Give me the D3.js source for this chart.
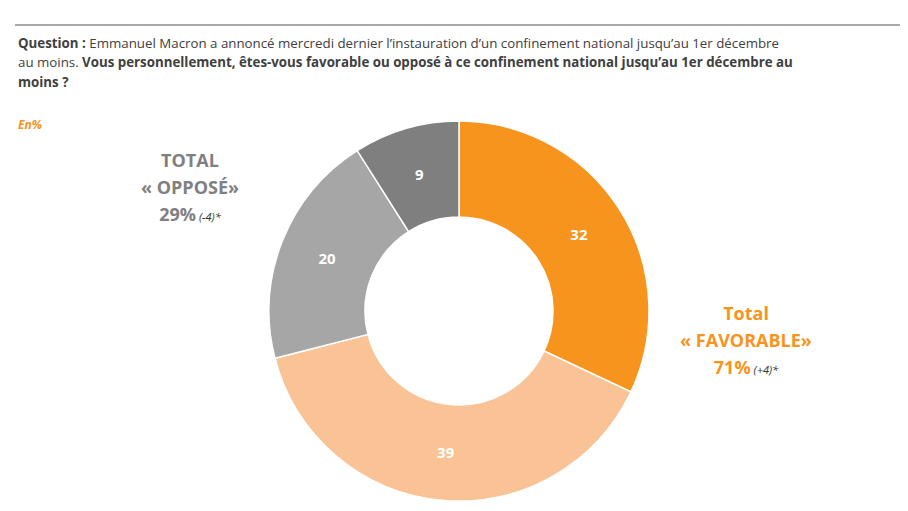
<!DOCTYPE html>
<html><head><meta charset="utf-8">
<script src="https://cdn.jsdelivr.net/npm/d3@7"></script>
<style>body{margin:0;background:#fff}text{font-family:"Open Sans",sans-serif}</style>
</head><body><svg id="c" width="908" height="511"></svg>
<script>
var categories = ["Très favorable", "Plutôt favorable", "Plutôt opposé", "Très opposé"];
var values = [32, 39, 20, 9];
var colors = ["#f7941d", "#f9c396", "#a6a6a6", "#7f7f7f"];

var svg = d3.select("#c");
svg.append("line").attr("x1", 15).attr("x2", 900).attr("y1", 25).attr("y2", 25).attr("stroke", "#555");

var t1 = svg.append("text").attr("x", 18).attr("y", 48).attr("font-size", 13.3).attr("fill", "#404040");
t1.append("tspan").attr("font-weight", "bold").text("Question : ");
t1.append("tspan").text("Emmanuel Macron a annoncé mercredi dernier l’instauration d’un confinement national jusqu’au 1er décembre");
var t2 = svg.append("text").attr("x", 18).attr("y", 67).attr("font-size", 13.3).attr("fill", "#404040");
t2.append("tspan").text("au moins. ");
t2.append("tspan").attr("font-weight", "bold").text("Vous personnellement, êtes-vous favorable ou opposé à ce confinement national jusqu’au 1er décembre au");
svg.append("text").attr("x", 18).attr("y", 87).attr("font-size", 13.3).attr("fill", "#404040").attr("font-weight", "bold").text("moins ?");
svg.append("text").attr("x", 18).attr("y", 129).attr("font-size", 12).attr("fill", "#f7941d").attr("font-weight", "bold").attr("font-style", "italic").text("En%");

var cx = 459, cy = 311;
var pie = d3.pie().sort(null)(values);
var arc = d3.arc().innerRadius(94).outerRadius(190);
var labelArc = d3.arc().innerRadius(142).outerRadius(142);
var g = svg.append("g").attr("transform", "translate(" + cx + "," + cy + ")");
g.selectAll("path").data(pie).enter().append("path").attr("d", arc)
  .attr("fill", function(d, i) { return colors[i]; }).attr("stroke", "#fff").attr("stroke-width", 1.5);
g.selectAll("text.v").data(pie).enter().append("text")
  .attr("transform", function(d) { return "translate(" + labelArc.centroid(d) + ")"; })
  .attr("text-anchor", "middle").attr("dy", "0.35em").attr("fill", "#fff")
  .attr("font-weight", "bold").attr("font-size", 15).text(function(d) { return d.data; });

function block(x, y, lines, col) {
  lines.forEach(function(l, i) {
    var t = svg.append("text").attr("x", x).attr("y", y + i * 27).attr("text-anchor", "middle")
      .attr("fill", col).attr("font-weight", "bold").attr("font-size", 18);
    t.append("tspan").text(l[0]);
    if (l[1]) t.append("tspan").attr("font-size", 11).attr("font-style", "italic").attr("fill", "#333").attr("font-weight", "normal").text(" " + l[1]);
  });
}
block(190, 167, [["TOTAL"], ["« OPPOSÉ»"], ["29%", "(-4)*"]], "#808080");
block(746, 320, [["Total"], ["« FAVORABLE»"], ["71%", "(+4)*"]], "#f7941d");
</script></body></html>
